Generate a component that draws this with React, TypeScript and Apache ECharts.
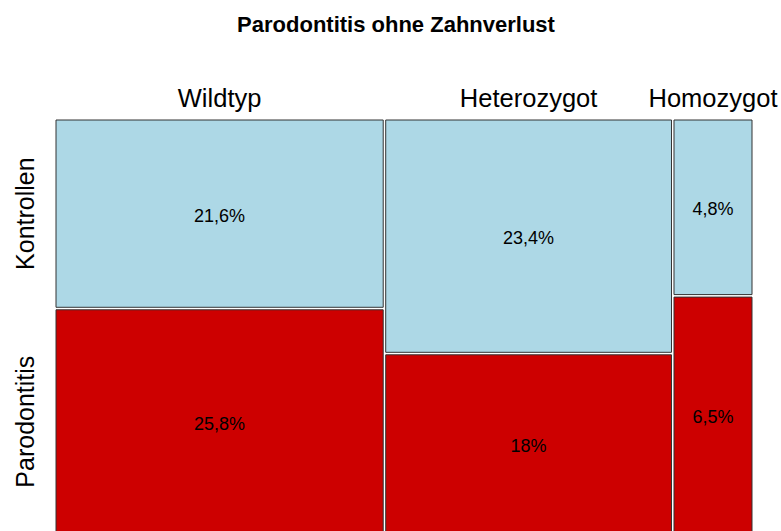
import React, { useEffect, useRef } from "react";
import * as echarts from "echarts";

const categories = ["Wildtyp", "Heterozygot", "Homozygot"];
const rowLabels = ["Kontrollen", "Parodontitis"];
const kontrollen = [21.6, 23.4, 4.8];
const parodontitis = [25.8, 18.0, 6.5];

const FONT = "'Liberation Sans', Arial, Helvetica, sans-serif";
const GAP = 2.5;

const fmt = (v: number) => String(v).replace(".", ",") + "%";

export default function App() {
  const ref = useRef<HTMLDivElement>(null);
  useEffect(() => {
    if (!ref.current) return;
    const chart = echarts.init(ref.current, null, { renderer: "svg" });
    const totals = categories.map((_, i) => kontrollen[i] + parodontitis[i]);
    const grand = totals.reduce((a, b) => a + b, 0);
    let cum = 0;
    const data = categories.map((_, i) => {
      const d = [i, cum, totals[i], kontrollen[i], parodontitis[i]];
      cum += totals[i];
      return d;
    });
    chart.setOption({
      animation: false,
      graphic: [
        {
          type: "text",
          x: 396,
          y: 24,
          style: {
            text: "Parodontitis ohne Zahnverlust",
            textAlign: "center",
            textVerticalAlign: "middle",
            fontFamily: FONT,
            fontWeight: "bold",
            fontSize: 22,
            fill: "#000",
          },
        },
      ],
      grid: { left: 56, top: 120, width: 691, height: 414 },
      xAxis: { type: "value", min: 0, max: grand, show: false },
      yAxis: { type: "value", min: 0, max: 1, inverse: true, show: false },
      series: [
        {
          type: "custom",
          clip: false,
          data,
          renderItem: (params: any, api: any) => {
            const i = api.value(0);
            const start = api.value(1);
            const tot = api.value(2);
            const top = api.value(3);
            const bot = api.value(4);
            const x0 = api.coord([start, 0])[0] + i * GAP;
            const x1 = api.coord([start + tot, 0])[0] + i * GAP;
            const y0 = api.coord([0, 0])[1];
            const ym = api.coord([0, top / tot])[1];
            const y1 = api.coord([0, 1])[1] + GAP;
            const cx = (x0 + x1) / 2;
            const stroke = "#333";
            const children: any[] = [
              {
                type: "rect",
                shape: { x: x0, y: y0, width: x1 - x0, height: ym - y0 },
                style: { fill: "#add8e6", stroke, lineWidth: 1 },
              },
              {
                type: "rect",
                shape: { x: x0, y: ym + GAP, width: x1 - x0, height: y1 - ym - GAP },
                style: { fill: "#cd0000", stroke, lineWidth: 1 },
              },
              {
                type: "text",
                style: {
                  text: fmt(top), x: cx, y: (y0 + ym) / 2 + 2,
                  textAlign: "center", textVerticalAlign: "middle",
                  fontFamily: FONT, fontSize: 18, fill: "#000",
                },
              },
              {
                type: "text",
                style: {
                  text: fmt(bot), x: cx, y: (ym + GAP + y1) / 2 + 2,
                  textAlign: "center", textVerticalAlign: "middle",
                  fontFamily: FONT, fontSize: 18, fill: "#000",
                },
              },
              {
                type: "text",
                style: {
                  text: categories[i], x: cx, y: y0 - 22,
                  textAlign: "center", textVerticalAlign: "middle",
                  fontFamily: FONT, fontSize: 25.5, fill: "#000",
                },
              },
            ];
            if (i === 0) {
              children.push(
                {
                  type: "text",
                  x: 25, y: (y0 + ym) / 2, rotation: Math.PI / 2,
                  style: {
                    text: rowLabels[0], x: 0, y: 0,
                    textAlign: "center", textVerticalAlign: "middle",
                    fontFamily: FONT, fontSize: 25, fill: "#000",
                  },
                },
                {
                  type: "text",
                  x: 25, y: (ym + GAP + y1) / 2, rotation: Math.PI / 2,
                  style: {
                    text: rowLabels[1], x: 0, y: 0,
                    textAlign: "center", textVerticalAlign: "middle",
                    fontFamily: FONT, fontSize: 25, fill: "#000",
                  },
                }
              );
            }
            return { type: "group", children };
          },
        },
      ],
    });
    return () => chart.dispose();
  }, []);
  return (
    <div
      ref={ref}
      style={{ position: "fixed", left: 0, top: 0, width: 781, height: 531, background: "#fff" }}
    />
  );
}
